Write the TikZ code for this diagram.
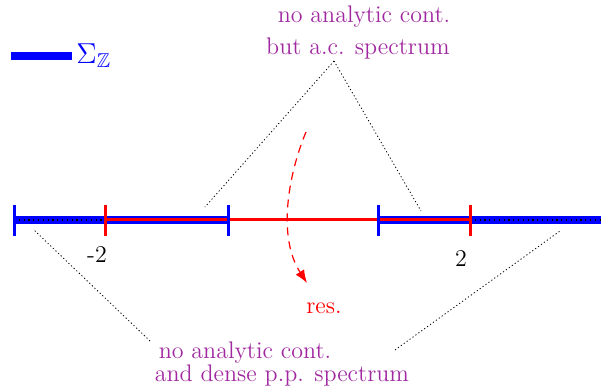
\documentclass[tikz,border=0pt]{standalone}
\usepackage{amssymb}
\usetikzlibrary{arrows.meta}
\definecolor{pur}{RGB}{160,40,160}
\begin{document}
\begin{tikzpicture}[x=0.5pt,y=-0.5pt,
  bluebar/.style={blue,line width=3.6pt},
  redbar/.style={red,line width=1.5pt},
  btick/.style={blue,line width=1.5pt},
  rtick/.style={red,line width=1.5pt},
  inner/.style={black,line width=0.6pt,dash pattern=on 0.6pt off 1.8pt},
  conn/.style={black,line width=0.4pt,dash pattern=on 0.6pt off 1.2pt},
  lab/.style={font=\large,text=pur,anchor=base,inner sep=0pt},
  numl/.style={font=\large,anchor=base,inner sep=0pt}]
\useasboundingbox (0,0) rectangle (601,390);
% axis points
\coordinate (a) at (14,220);
\coordinate (m2) at (105,220);
\coordinate (b) at (228,220);
\coordinate (c) at (378,220);
\coordinate (p2) at (470,220);
\coordinate (e) at (601,220);
% blue spectrum
\draw[bluebar] (a) -- (b);
\draw[bluebar] (c) -- (e);
\draw[inner] (a) -- (m2);
\draw[inner] (p2) -- (e);
% red
\draw[redbar] (m2) -- (p2);
% ticks
\foreach \p in {a,b,c} \draw[btick] (\p) ++(0,-15) -- ++(0,31);
\foreach \p in {m2,p2} \draw[rtick] (\p) ++(0,-15) -- ++(0,31);
% numbers
\node[numl] (nm2) at (97,263) {-2};
\node[numl] (np2) at (461,267) {2};
% legend
\coordinate (l1) at (11,56);
\coordinate (l2) at (72,56);
\draw[bluebar] (l1) -- (l2);
\node[anchor=west,text=blue,inner sep=0pt,font=\Large] (sig) at (76,56) {$\Sigma_{\mathbb{Z}}$};
% top labels
\node[lab] (t1) at (364,23) {no analytic cont.};
\node[lab] (t2) at (358,55) {but a.c. spectrum};
\coordinate (ta) at (334,61);
\coordinate (tl) at (205,207);
\coordinate (tr) at (421,211);
\draw[conn] (ta) -- (tl);
\draw[conn] (ta) -- (tr);
% bottom labels
\node[lab] (b1) at (245,358) {no analytic cont.};
\node[lab] (b2) at (282,382) {and dense p.p. spectrum};
\coordinate (bl1) at (150,341);
\coordinate (bl2) at (33,229);
\coordinate (br1) at (395,350);
\coordinate (br2) at (560,231);
\draw[conn] (bl1) -- (bl2);
\draw[conn] (br1) -- (br2);
% resonance arrow
\coordinate (rs) at (306,132);
\coordinate (re) at (307,283);
\draw[red,line width=0.6pt,dash pattern=on 4pt off 3pt,-{Latex[length=6.5pt,width=5pt]}]
  (rs) .. controls (290,170) and (276,235) .. (re);
\node[numl,text=red] (res) at (324,314) {res.};
\end{tikzpicture}
\end{document}
